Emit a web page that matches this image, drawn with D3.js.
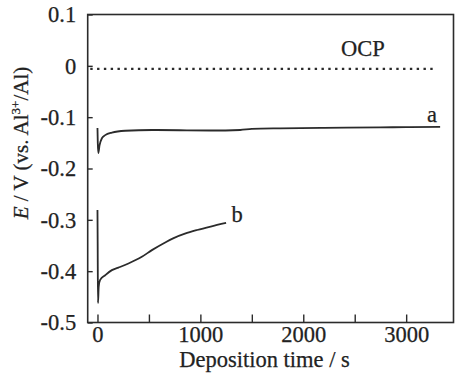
<!DOCTYPE html>
<html>
<head>
<meta charset="utf-8">
<script src="https://cdn.jsdelivr.net/npm/d3@7"></script>
<style>
  html, body { margin: 0; padding: 0; background: #fff; }
  svg text { font-family: "Liberation Serif", "Times New Roman", serif; fill: #222; stroke: #222; stroke-width: 0.25px; }
</style>
</head>
<body>
<svg id="chart" width="457" height="375"></svg>
<script>
// Chronopotentiometric curves of Al deposition: E vs time
const ocpTime = [-70, 3280];
const ocpE = [-0.006, -0.006];

const aTime = [0, 3, 8, 20, 43, 75, 140, 269, 530, 800, 1100, 1387, 1500, 1776, 2200, 2748, 3000, 3330];
const aE = [-0.121, -0.150, -0.170, -0.155, -0.141, -0.135, -0.130, -0.1265, -0.125, -0.1255, -0.126, -0.125, -0.123, -0.1218, -0.121, -0.1198, -0.1195, -0.119];

const bTime = [0, 2, 5, 12, 26, 75, 140, 204, 301, 431, 529, 658, 735, 850, 969, 1100, 1250];
const bE = [-0.281, -0.35, -0.462, -0.43, -0.417, -0.408, -0.398, -0.393, -0.385, -0.372, -0.359, -0.344, -0.336, -0.327, -0.3198, -0.313, -0.306];

const xTicks = [0, 500, 1000, 1500, 2000, 2500, 3000];
const xLabelled = [0, 1000, 2000, 3000];
const yTicks = [0.1, 0, -0.1, -0.2, -0.3, -0.4, -0.5];

const W = 457, H = 375;
const margin = { left: 87.7, top: 14.5, right: 3.5, bottom: 52.5 };
const svg = d3.select("#chart");
const serif = '"Liberation Serif", "Times New Roman", serif';
const fs = 22.5;

const x = d3.scaleLinear().domain([-95, 3460]).range([margin.left, W - margin.right]);
const y = d3.scaleLinear().domain([-0.5, 0.1]).range([H - margin.bottom, margin.top]);

const ink = "#2b2b2b";

// frame
svg.append("rect")
  .attr("x", x.range()[0]).attr("y", y.range()[1])
  .attr("width", x.range()[1] - x.range()[0])
  .attr("height", y.range()[0] - y.range()[1])
  .attr("fill", "none").attr("stroke", ink).attr("stroke-width", 1.6);

// bottom axis, ticks pointing inward
const gx = svg.append("g")
  .attr("transform", `translate(0,${y.range()[0]})`)
  .call(d3.axisBottom(x).tickValues(xTicks).tickSizeInner(-8).tickSizeOuter(0).tickPadding(4)
    .tickFormat(d => xLabelled.includes(d) ? String(d) : ""));
gx.attr("font-family", serif).attr("font-size", fs);
gx.select(".domain").remove();
gx.selectAll(".tick line").attr("stroke", ink).attr("stroke-width", 1.4);
gx.selectAll(".tick text").attr("fill", "#222");

// left axis, ticks pointing inward
const gy = svg.append("g")
  .attr("transform", `translate(${x.range()[0]},0)`)
  .call(d3.axisLeft(y).tickValues(yTicks).tickSizeInner(-5).tickSizeOuter(0).tickPadding(11.5)
    .tickFormat(d => d === 0 ? "0" : d.toFixed(1)));
gy.attr("font-family", serif).attr("font-size", fs);
gy.select(".domain").remove();
gy.selectAll(".tick line").attr("stroke", ink).attr("stroke-width", 1.4);
gy.selectAll(".tick text").attr("fill", "#222");

const lineLin = d3.line().x(d => x(d[0])).y(d => y(d[1]));
const lineSmooth = d3.line().x(d => x(d[0])).y(d => y(d[1])).curve(d3.curveMonotoneX);

// OCP (dotted)
svg.append("path")
  .datum(d3.zip(ocpTime, ocpE))
  .attr("d", lineLin)
  .attr("fill", "none").attr("stroke", ink).attr("stroke-width", 2.2)
  .attr("stroke-dasharray", "2.4,4.4");

// curve a
svg.append("path")
  .datum(d3.zip(aTime, aE))
  .attr("d", lineSmooth)
  .attr("fill", "none").attr("stroke", ink).attr("stroke-width", 1.8)
  .attr("stroke-linejoin", "round");

// curve b
svg.append("path")
  .datum(d3.zip(bTime, bE))
  .attr("d", lineSmooth)
  .attr("fill", "none").attr("stroke", ink).attr("stroke-width", 1.8)
  .attr("stroke-linejoin", "round");

// curve labels
svg.append("text").attr("x", 363).attr("y", 56).attr("font-size", fs).attr("text-anchor", "middle").text("OCP");
svg.append("text").attr("x", 432).attr("y", 121.5).attr("font-size", fs).attr("text-anchor", "middle").text("a");
svg.append("text").attr("x", 237).attr("y", 222).attr("font-size", fs).attr("text-anchor", "middle").text("b");

// axis titles
svg.append("text")
  .attr("x", 264.5)
  .attr("y", 366.5)
  .attr("font-size", fs).attr("text-anchor", "middle")
  .text("Deposition time / s");

const yt = svg.append("text")
  .attr("transform", `translate(28,143) rotate(-90)`)
  .attr("font-size", 21).attr("text-anchor", "middle");
yt.append("tspan").attr("font-style", "italic").text("E");
yt.append("tspan").text(" / V (vs. Al");
yt.append("tspan").attr("font-size", 13).attr("dy", -8).text("3+");
yt.append("tspan").attr("dy", 8).text("/Al)");
</script>
</body>
</html>
